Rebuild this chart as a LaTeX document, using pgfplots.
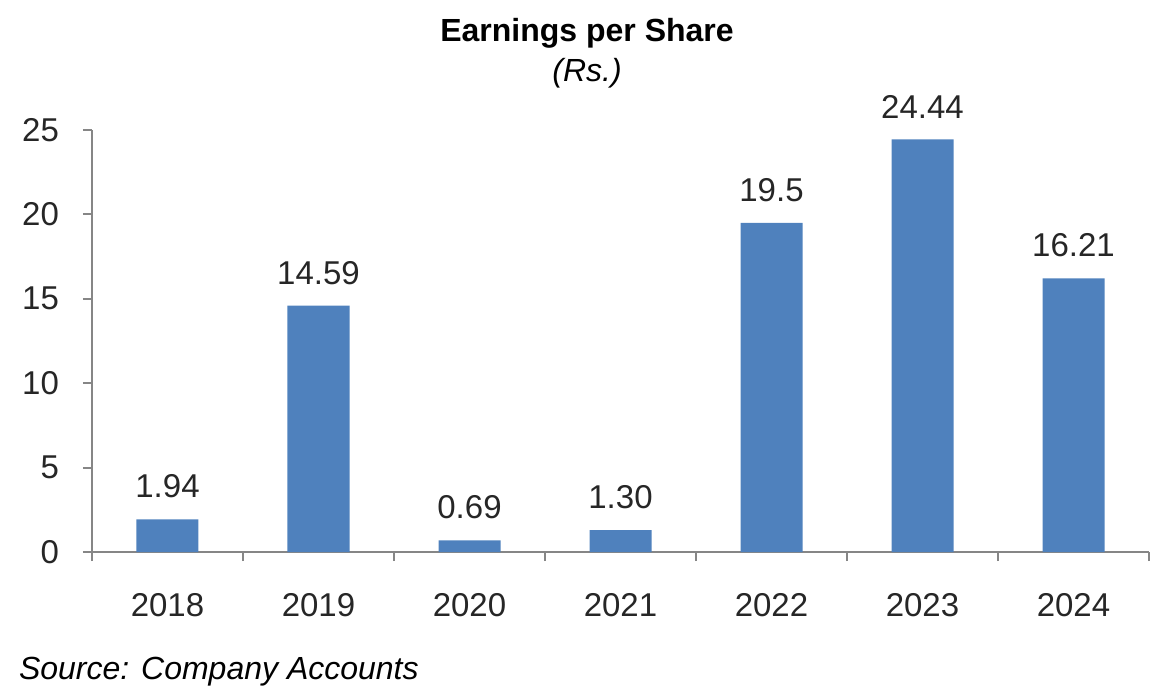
\documentclass[border=0pt]{standalone}
\usepackage{pgfplots}
\pgfplotsset{compat=1.18}
\usepackage{pgfplotstable}
\usepackage{fontspec}
\setmainfont{Liberation Sans}
\definecolor{barblue}{HTML}{4F81BD}
\definecolor{axgrey}{HTML}{868686}
\pgfplotstableread{
x y lab
0 1.94 1.94
1 14.59 14.59
2 0.69 0.69
3 1.30 1.30
4 19.5 19.5
5 24.44 24.44
6 16.21 16.21
}\eps
\begin{document}
\begin{tikzpicture}
\path[use as bounding box] (-46pt,-71.5pt) rectangle (539pt,276pt);
\begin{axis}[
  at={(0,0)}, anchor=south west,
  scale only axis, width=528.5pt, height=211pt,
  ymin=0, ymax=25, xmin=-0.5, xmax=6.5,
  ytick={0,5,...,25},
  xtick={0,...,6},
  xticklabels={2018,2019,2020,2021,2022,2023,2024},
  minor xtick={-0.5,0.5,...,6.5},
  major x tick style={draw=none},
  tick align=outside,
  major tick length=4.5pt, minor tick length=4.5pt,
  axis x line*=bottom, axis y line*=left,
  axis line style={axgrey, line width=0.9pt},
  tick style={axgrey, line width=0.9pt},
  every tick label/.append style={font=\fontsize{16.5}{19}\selectfont, text=black!85},
  xticklabel style={yshift=-12.5pt},
  yticklabel style={xshift=-8.5pt},
  /pgf/number format/assume math mode=true,
  ybar, bar width=31pt,
  nodes near coords,
  point meta=explicit symbolic,
  every node near coord/.append style={font=\fontsize{16.5}{19}\selectfont, text=black!85, yshift=7pt},
  clip=false,
]
\addplot[fill=barblue, draw=none] table[x=x, y=y, meta=lab] {\eps};
\end{axis}
\node[font=\bfseries\fontsize{16}{19}\selectfont] at (247.5pt,259.5pt) {Earnings per Share};
\node[font=\itshape\fontsize{16}{19}\selectfont] at (247.5pt,239.5pt) {(Rs.)};
\node[font=\itshape\fontsize{16}{19}\selectfont, anchor=west] at (-40pt,-60pt) {Source: Company Accounts};
\end{tikzpicture}
\end{document}
